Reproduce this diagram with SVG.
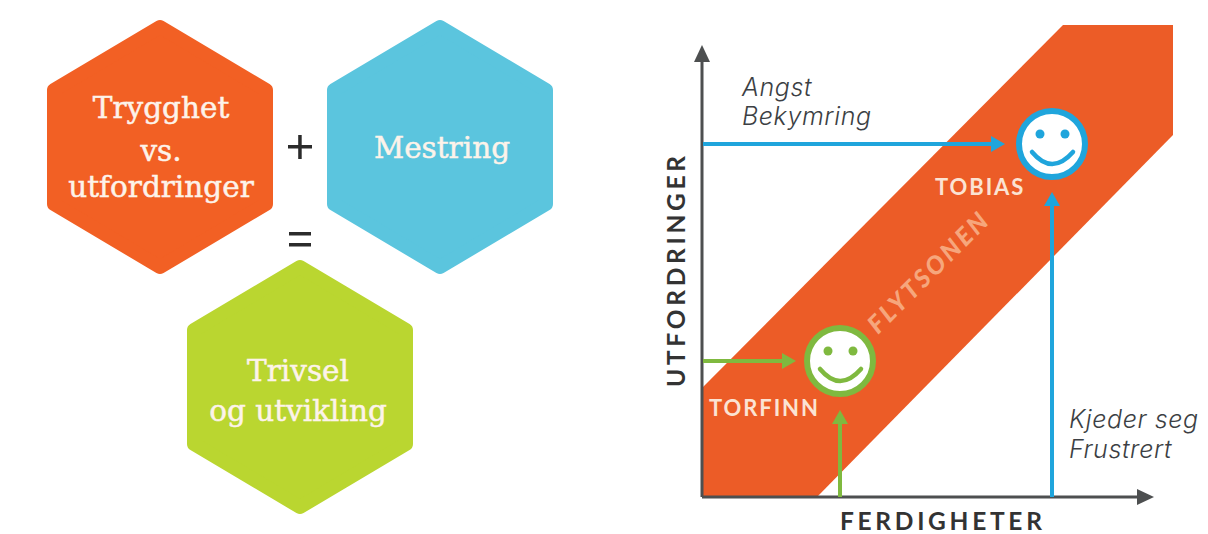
<svg xmlns="http://www.w3.org/2000/svg" width="1208" height="534" viewBox="0 0 1208 534">
<style>
.hex{stroke-width:14;stroke-linejoin:round}
.ht{font-family:"DejaVu Serif",serif;font-size:29.5px;fill:#fdf3ea;text-anchor:middle;stroke:#fdf3ea;stroke-width:.5}
.op{fill:#2b2b2b}
.lab{font-family:Lato,"Open Sans",sans-serif;font-weight:700;fill:#fbe3d3;font-size:22px;letter-spacing:1.9px}
.ax{font-family:Lato,"Open Sans",sans-serif;font-weight:700;fill:#333;font-size:24.5px;letter-spacing:3.7px}
.it{font-family:Inter,"Open Sans",sans-serif;font-style:italic;font-weight:300;fill:#3c3f44;font-size:25px;letter-spacing:.6px}
.b{stroke:#1fa5dc;fill:none}
.g{stroke:#7fb93f;fill:none}
</style>
<defs>
<polygon id="h" points="160,27 266,90 266,204 160,267 54,204 54,90"/>
</defs>
<rect width="1208" height="534" fill="#fff"/>
<g id="hex-trygghet"><use href="#h" class="hex" fill="#f26024" stroke="#f26024"/>
<text class="ht" x="161" y="118">Trygghet</text><text class="ht" x="161" y="161">vs.</text><text class="ht" x="161" y="197">utfordringer</text></g>
<g id="hex-mestring"><use href="#h" x="280" class="hex" fill="#5bc5de" stroke="#5bc5de"/>
<text class="ht" x="442" y="158">Mestring</text></g>
<g id="hex-trivsel"><use href="#h" x="140" y="240" class="hex" fill="#bad630" stroke="#bad630"/>
<text class="ht" x="298" y="381">Trivsel</text><text class="ht" x="298" y="421">og utvikling</text></g>
<g id="ops"><rect class="op" x="288" y="145" width="24" height="3.5"/><rect class="op" x="298.2" y="135" width="3.5" height="24"/>
<rect class="op" x="289" y="232" width="22" height="3.5"/><rect class="op" x="289" y="243" width="22" height="3.5"/></g>
<g id="band"><polygon points="703,387 1063,25 1173,25 1173,135 817,497 703,497" fill="#ec5c27"/>
<text transform="translate(878,335) rotate(-45)" font-family="Lato,'Open Sans',sans-serif" font-weight="900" font-style="italic" font-size="25px" letter-spacing="3px" fill="#f6a67c">FLYTSONEN</text>
<text class="lab" x="709" y="416">TORFINN</text><text class="lab" x="935" y="195">TOBIAS</text></g>
<g id="connectors">
<path d="M702 497V60M702 497H1140" stroke="#4d4f50" stroke-width="3" fill="none"/>
<polygon points="702,45 694,62 710,62" fill="#4d4f50"/><polygon points="1154,497 1137,489 1137,505" fill="#4d4f50"/>
<path class="b" stroke-width="4" d="M703 144H992M1052 497V205"/>
<polygon points="1005,144 991,136 991,152" fill="#1fa5dc"/><polygon points="1052,192 1044,206 1060,206" fill="#1fa5dc"/>
<path class="g" stroke-width="4" d="M703 361H783M840 497V423"/>
<polygon points="796,361 782,353 782,369" fill="#7fb93f"/><polygon points="840,410 832,424 848,424" fill="#7fb93f"/>
</g>
<g id="smiley-tobias"><circle cx="1052" cy="144" r="33" fill="#fff" stroke="#1fa5dc" stroke-width="6"/><circle cx="1040" cy="134" r="4.5" fill="#1fa5dc"/><circle cx="1065" cy="134" r="4.5" fill="#1fa5dc"/><path d="M1032 152Q1052 176 1073 152" fill="none" stroke="#1fa5dc" stroke-width="4.5" stroke-linecap="round"/></g>
<g id="smiley-torfinn"><circle cx="840" cy="361" r="33" fill="#fff" stroke="#7fb93f" stroke-width="6"/><circle cx="828" cy="351" r="4.5" fill="#7fb93f"/><circle cx="853" cy="351" r="4.5" fill="#7fb93f"/><path d="M820 369Q840 393 861 369" fill="none" stroke="#7fb93f" stroke-width="4.5" stroke-linecap="round"/></g>
<g id="labels">
<text class="it" x="742" y="96">Angst</text><text class="it" x="742" y="125">Bekymring</text>
<text class="it" x="1069" y="428">Kjeder seg</text><text class="it" x="1069" y="458">Frustrert</text>
<text class="ax" x="840" y="530">FERDIGHETER</text>
<text class="ax" transform="translate(685,387) rotate(-90)">UTFORDRINGER</text>
</g>
</svg>
